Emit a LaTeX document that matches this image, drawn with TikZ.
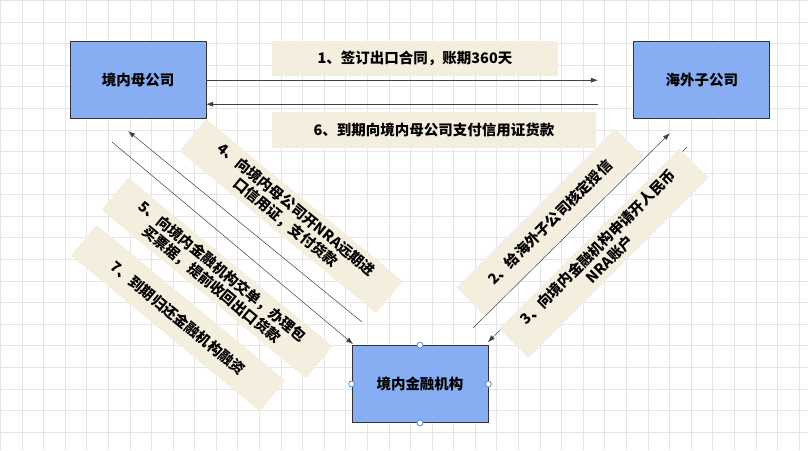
\documentclass[tikz,border=0pt]{standalone}
\usepackage{fontspec}
\setmainfont{Noto Sans CJK SC}
\usetikzlibrary{arrows.meta}
\definecolor{boxblue}{HTML}{87AEF2}
\definecolor{notebg}{HTML}{F3EEDD}
\definecolor{handle}{HTML}{4A90E2}
\begin{document}
\begin{tikzpicture}
[x=1pt, y=-1pt, font=\bfseries\fontsize{14.5}{17}\selectfont,
party/.style={rectangle, draw=black!80, fill=boxblue, line width=0.8pt, minimum width=136pt, minimum height=77pt},
note/.style={rectangle, fill=notebg, inner sep=5pt, align=center},
flow/.style={-{Latex[length=7pt,width=5pt]}, black!75, line width=0.5pt},
knob/.style={circle, draw=handle, fill=white, line width=0.8pt, inner sep=0pt, minimum size=6pt}]

% background grid
\fill[white] (0,0) rectangle (808,450);
\draw[black!10, line width=0.5pt] (0,0) grid[step=21.6pt] (808,450);
\useasboundingbox (0,0) rectangle (808,450);

\node[party] (parent) at (138,80) {境内母公司};
\node[party] (child) at (702,80) {海外子公司};
\node[party] (bank) at (420,384) {境内金融机构};

\coordinate (a1s) at (206,80);  \coordinate (a1e) at (598,80);
\coordinate (a6s) at (598,104); \coordinate (a6e) at (206,104);
\coordinate (a4s) at (362,322); \coordinate (a4e) at (128,131);
\coordinate (a5s) at (112,142); \coordinate (a5e) at (353,344);
\coordinate (a2s) at (473,328); \coordinate (a2e) at (670,133);
\coordinate (a3s) at (687,147); \coordinate (a3e) at (488,342);

\draw[flow] (a1s) -- (a1e);
\draw[flow] (a6s) -- (a6e);
\draw[flow] (a4s) -- (a4e);
\draw[flow] (a5s) -- (a5e);
\draw[flow] (a2s) -- (a2e);
\draw[flow] (a3s) -- (a3e);

\node[note, minimum width=286pt, minimum height=35pt] (n1) at (415,58) {1、签订出口合同，账期360天};
\node[note, minimum width=324pt, minimum height=36pt] (n6) at (434,130) {6、到期向境内母公司支付信用证货款};
\node[note, rotate=-39.5, text width=245pt] (n4) at (291,216) {4、向境内母公司开NRA远期进\\口信用证，支付货款};
\node[note, rotate=-39.5, text width=255pt] (n5) at (217,278) {5、向境内金融机构交单，办理包\\买票据，提前收回出口货款};
\node[note, rotate=-39.5, text width=235pt, minimum height=40pt] (n7) at (178,318) {7、到期归还金融机构融资};
\node[note, rotate=45, text width=215pt, minimum height=40pt] (n2) at (550,222) {2、给海外子公司核定授信};
\node[note, rotate=45, text width=245pt] (n3) at (604,253) {3、向境内金融机构申请开人民币\\NRA账户};

\node[knob] (k1) at (bank.north) {};
\node[knob] (k2) at (bank.west) {};
\node[knob] (k3) at (bank.east) {};
\node[knob] (k4) at (bank.south) {};
\end{tikzpicture}
\end{document}
